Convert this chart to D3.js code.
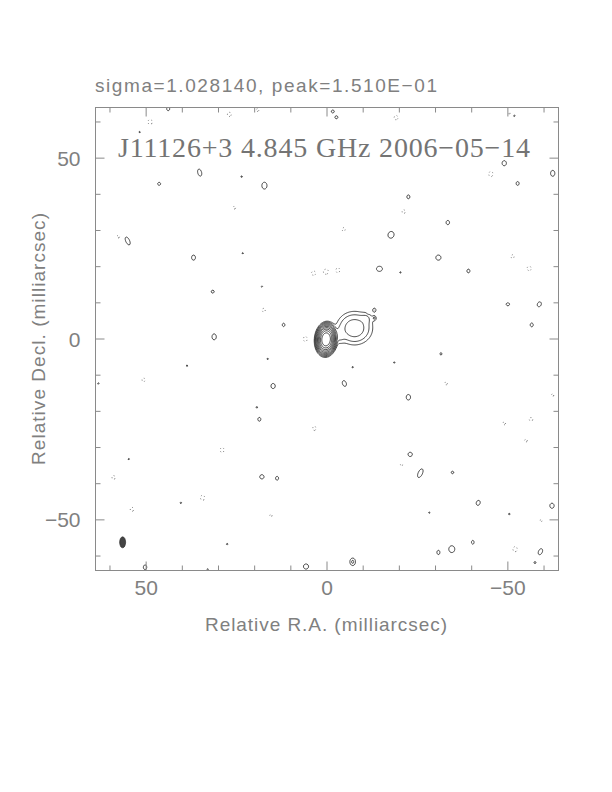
<html>
<head>
<meta charset="UTF-8">
<title>J11126+3 4.845 GHz 2006-05-14</title>
<script src="https://d3js.org/d3.v7.min.js"></script>
<style>
  body { margin: 0; background: #fff; }
  svg { display: block; }
  .frame { fill: none; stroke: #8a8a8a; stroke-width: 1; }
  .tick { stroke: #8a8a8a; stroke-width: 1; }
  .lbl { fill: #808080; font-family: "Liberation Sans", Arial, sans-serif; }
  .head { fill: #747474; font-family: "Liberation Serif", "DejaVu Serif", serif; }
  .pos { fill: none; stroke: #1a1a1a; stroke-width: 0.8; }
  .neg { fill: none; stroke: #555; stroke-width: 0.8; stroke-dasharray: 1 2.5; }
  .beam { fill: #444; stroke: #222; stroke-width: 0.6; }
</style>
</head>
<body>
<svg width="612" height="792"></svg>
<script>
// ---- data ----
var titleText = "sigma=1.028140, peak=1.510E\u221201";
var headText = "J11126+3 4.845 GHz 2006\u221205\u221214";
var xLabel = "Relative R.A. (milliarcsec)";
var yLabel = "Relative Decl. (milliarcsec)";
var minorTicks = [-60, -40, -30, -20, -10, 10, 20, 30, 40, 60];
var majorTicks = [-50, 0, 50];
var tickLabels = ["\u221250", "0", "50"];
var mapExtent = 64;          // mas, half width of the map
var posLevels = [1, 2, 4, 8, 16, 32, 64, 128, 256, 512];
var negLevels = [1];
// restoring beam: ra, dec, semi-minor, semi-major (mas)
var beam = [56.5, -56.2, 0.83, 1.52];

// components: ra, dec, peak (lowest-contour units), sigma ra, sigma dec, tilt (deg)
var coreJet = [
  [0.25, -0.1, 1300, 0.86, 1.32, 5],
  [-7.6, 3.0, 6.5, 2.6, 2.4, 0],
  [-3.4, 0.8, 1.6, 0.9, 1.4, 0],
  [-11.0, 5.8, 1.2, 1.0, 1.0, 0]
];

var noisePos = [
  [43.9, 63.6, 2, 0.35, 0.4, 0], [51.8, 57.2, 1.3, 0.3, 0.3, 0],
  [35.2, 46.0, 2, 0.45, 0.85, -15], [46.4, 42.9, 2, 0.35, 0.35, 0],
  [23.6, 44.9, 1.3, 0.3, 0.3, 0], [17.3, 42.4, 2, 0.6, 0.8, 0],
  [55.1, 27.1, 2, 0.45, 1.0, -25], [36.9, 22.5, 2, 0.45, 0.6, 0],
  [23.3, 23.7, 1.3, 0.3, 0.3, 0], [31.6, 13.1, 2, 0.35, 0.35, 0],
  [18.0, 14.5, 1.3, 0.3, 0.3, 0], [12.0, 3.9, 2, 0.3, 0.4, 0],
  [31.2, 0.6, 2, 0.5, 0.7, 0], [-1.6, 62.9, 2, 0.35, 0.35, 0],
  [-2.6, 61.3, 2, 0.35, 0.35, 0], [-51.8, 61.7, 1.3, 0.3, 0.3, 0],
  [-49.0, 48.6, 2, 0.5, 0.6, 0], [-62.4, 45.8, 2, 0.5, 0.7, 0],
  [-52.7, 43.0, 2, 0.35, 0.45, 0], [-22.5, 39.3, 2, 0.35, 0.45, 0],
  [-33.4, 32.2, 2, 0.4, 0.5, 0], [-17.7, 28.8, 2, 0.7, 0.8, 20],
  [-30.8, 22.5, 2, 0.6, 0.6, 0], [-14.5, 19.4, 2, 0.7, 0.6, 0],
  [-20.3, 18.4, 1.3, 0.3, 0.3, 0], [-39.1, 18.8, 2, 0.35, 0.45, 0],
  [-50.0, 9.6, 2, 0.4, 0.35, 0], [-58.7, 9.6, 2, 0.45, 0.6, 25],
  [-56.6, 3.9, 2, 0.35, 0.45, 0], [-13.1, 8.0, 2, 0.35, 0.45, 0],
  [-13.1, 5.8, 2, 0.35, 0.45, 0], [16.4, -5.5, 1.3, 0.3, 0.3, 0],
  [38.7, -7.4, 1.3, 0.3, 0.3, 0], [63.2, -12.3, 1.3, 0.3, 0.3, 0],
  [19.4, -18.9, 1.3, 0.3, 0.3, 0], [54.8, -33.2, 1.3, 0.3, 0.3, 0],
  [40.4, -45.3, 1.3, 0.3, 0.3, 0], [27.6, -56.7, 1.3, 0.3, 0.3, 0],
  [33.0, -63.7, 1.3, 0.3, 0.3, 0], [14.9, -13.0, 2, 0.5, 0.6, 0],
  [18.7, -22.2, 2, 0.35, 0.45, 0], [18.0, -38.1, 2, 0.5, 0.5, 0],
  [13.8, -38.5, 2, 0.35, 0.45, 0], [50.3, -63.1, 2, 0.4, 0.55, 0],
  [5.8, -62.9, 2, 0.6, 0.6, 0], [-31.5, -4.1, 1.6, 0.3, 0.35, 0],
  [-18.6, -6.5, 1.3, 0.3, 0.3, 0], [-7.1, -7.8, 1.3, 0.3, 0.3, 0],
  [-4.8, -12.3, 2, 0.45, 0.7, -20], [-22.5, -16.1, 2, 0.5, 0.65, 0],
  [-23.0, -31.9, 2, 0.5, 0.5, 0], [-25.8, -37.1, 2, 0.5, 1.1, 25],
  [-34.7, -36.9, 2, 0.3, 0.3, 0], [-41.8, -45.3, 2, 0.45, 0.6, 20],
  [-62.2, -46.1, 2, 0.5, 0.6, 0], [-28.3, -48.0, 1.3, 0.3, 0.3, 0],
  [-50.4, -48.4, 1.3, 0.3, 0.3, 0], [-57.5, -61.8, 1.6, 0.3, 0.3, 0],
  [-40.3, -56.2, 2, 0.3, 0.45, 0], [-30.8, -59.0, 2, 0.35, 0.5, 0],
  [-34.5, -58.1, 2, 0.7, 0.8, 0], [-59.0, -58.8, 2, 0.45, 0.75, 25],
  [-7.1, -61.6, 2.3, 0.6, 0.8, 0]
];

var noiseNeg = [
  [48.9, 60.0, -2, 0.5, 0.6, 0], [27.0, 62.1, -2, 0.45, 0.5, 0],
  [19.2, 63.3, -1.6, 0.4, 0.4, 0], [-19.1, 61.2, -2, 0.45, 0.5, 0],
  [-45.3, 45.6, -2, 0.5, 0.6, 0], [25.6, 36.3, -1.6, 0.35, 0.4, 0],
  [57.7, 28.3, -1.6, 0.35, 0.4, 0], [0.3, 18.6, -2, 0.6, 0.6, 0],
  [3.7, 18.2, -2, 0.5, 0.5, 0], [-3.0, 19.0, -2, 0.45, 0.6, 0],
  [-21.2, 35.2, -1.8, 0.4, 0.5, 0], [-4.6, 30.3, -1.8, 0.4, 0.45, 0],
  [-51.3, 22.8, -1.8, 0.4, 0.45, 0], [-55.9, 19.5, -2, 0.5, 0.5, 0],
  [17.5, 8.0, -1.8, 0.4, 0.45, 0], [6.0, 0.0, -2, 0.45, 0.6, 0],
  [-11.5, 7.5, -1.5, 0.3, 0.35, 0], [50.7, -11.3, -1.8, 0.4, 0.45, 0],
  [3.5, -24.7, -1.8, 0.4, 0.55, 0], [29.0, -30.7, -2, 0.45, 0.6, 0],
  [59.0, -38.3, -1.8, 0.4, 0.5, 0], [34.4, -43.9, -2, 0.5, 0.6, 0],
  [53.9, -47.1, -1.8, 0.45, 0.5, 0], [15.5, -48.8, -1.5, 0.35, 0.4, 0],
  [-32.9, -12.3, -1.6, 0.4, 0.4, 0], [-62.4, -15.5, -1.5, 0.35, 0.45, 0],
  [-49.0, -23.3, -1.6, 0.35, 0.45, 0], [-56.4, -22.2, -1.8, 0.45, 0.45, 0],
  [-55.0, -28.1, -1.6, 0.4, 0.4, 0], [-20.6, -34.8, -1.5, 0.35, 0.35, 0],
  [-59.2, -50.2, -1.5, 0.3, 0.4, 0], [-52.0, -58.1, -2, 0.5, 0.6, 0],
  [-50.4, 62.4, -1.4, 0.3, 0.3, 0]
];

// ---- layout ----
var svg = d3.select("svg");
var plotL = 95.5, plotR = 558.5, plotT = 107.5, plotB = 570.5;

var xScale = d3.scaleLinear().domain([mapExtent, -mapExtent]).range([plotL, plotR]);
var yScale = d3.scaleLinear().domain([mapExtent, -mapExtent]).range([plotT, plotB]);

// ---- build the brightness grid from the components ----
var step = 0.25;
var n = Math.round(2 * mapExtent / step) + 1;
var grid = new Float64Array(n * n);
var comps = coreJet.concat(noisePos, noiseNeg);

comps.forEach(function (c) {
  var ra0 = c[0], dec0 = c[1], amp = c[2], sx = c[3], sy = c[4];
  var t = c[5] * Math.PI / 180, ct = Math.cos(t), st = Math.sin(t);
  var R = Math.max(sx, sy) * Math.sqrt(2 * Math.log(Math.abs(amp) / 0.002));
  var i0 = Math.max(0, Math.floor((mapExtent - ra0 - R) / step));
  var i1 = Math.min(n - 1, Math.ceil((mapExtent - ra0 + R) / step));
  var j0 = Math.max(0, Math.floor((mapExtent - dec0 - R) / step));
  var j1 = Math.min(n - 1, Math.ceil((mapExtent - dec0 + R) / step));
  for (var j = j0; j <= j1; j++) {
    var dy = (mapExtent - j * step) - dec0;
    for (var i = i0; i <= i1; i++) {
      var dx = -((mapExtent - i * step) - ra0);
      var u = dx * ct - dy * st, v = dx * st + dy * ct;
      grid[j * n + i] += amp * Math.exp(-(u * u / (2 * sx * sx) + v * v / (2 * sy * sy)));
    }
  }
});

var negGrid = grid.map(function (v) { return -v; });

var gridToPx = d3.geoTransform({
  point: function (x, y) {
    var ra = mapExtent - (x - 0.5) * step;
    var dec = mapExtent - (y - 0.5) * step;
    this.stream.point(xScale(ra), yScale(dec));
  }
});
var path = d3.geoPath(gridToPx);

svg.append("clipPath").attr("id", "plotclip")
  .append("rect")
  .attr("x", plotL).attr("y", plotT)
  .attr("width", plotR - plotL).attr("height", plotB - plotT);

var plot = svg.append("g").attr("clip-path", "url(#plotclip)");

var posContours = d3.contours().size([n, n]).thresholds(posLevels)(grid);
var negContours = d3.contours().size([n, n]).thresholds(negLevels)(negGrid);

plot.selectAll("path.neg")
  .data(negContours)
  .enter().append("path")
  .attr("class", "neg")
  .attr("d", path);

plot.selectAll("path.pos")
  .data(posContours)
  .enter().append("path")
  .attr("class", "pos")
  .attr("d", path);

// beam
plot.append("ellipse")
  .attr("class", "beam")
  .attr("cx", xScale(beam[0]))
  .attr("cy", yScale(beam[1]))
  .attr("rx", Math.abs(xScale(beam[2]) - xScale(0)))
  .attr("ry", Math.abs(yScale(beam[3]) - yScale(0)));

// ---- frame and ticks ----
svg.append("rect")
  .attr("class", "frame")
  .attr("x", plotL).attr("y", plotT)
  .attr("width", plotR - plotL).attr("height", plotB - plotT);

function drawTicks(values, len) {
  values.forEach(function (v) {
    var x = xScale(v), y = yScale(v);
    svg.append("line").attr("class", "tick").attr("x1", x).attr("x2", x).attr("y1", plotB).attr("y2", plotB - len);
    svg.append("line").attr("class", "tick").attr("x1", x).attr("x2", x).attr("y1", plotT).attr("y2", plotT + len);
    svg.append("line").attr("class", "tick").attr("y1", y).attr("y2", y).attr("x1", plotL).attr("x2", plotL + len);
    svg.append("line").attr("class", "tick").attr("y1", y).attr("y2", y).attr("x1", plotR).attr("x2", plotR - len);
  });
}
drawTicks(minorTicks, 5);
drawTicks(majorTicks, 9);

// tick labels
majorTicks.forEach(function (v, k) {
  svg.append("text").attr("class", "lbl")
    .attr("x", xScale(v)).attr("y", 595)
    .attr("text-anchor", "middle")
    .attr("font-size", 21)
    .text(tickLabels[k]);
  svg.append("text").attr("class", "lbl")
    .attr("x", 80.5).attr("y", yScale(v) + 7.5)
    .attr("text-anchor", "end")
    .attr("font-size", 21)
    .text(tickLabels[k]);
});

// axis titles
svg.append("text").attr("class", "lbl")
  .attr("x", 326).attr("y", 631)
  .attr("text-anchor", "middle")
  .attr("font-size", 19)
  .attr("textLength", 242)
  .text(xLabel);

svg.append("text").attr("class", "lbl")
  .attr("transform", "translate(45,339) rotate(-90)")
  .attr("text-anchor", "middle")
  .attr("font-size", 19)
  .attr("textLength", 252)
  .text(yLabel);

// titles
svg.append("text").attr("class", "lbl")
  .attr("x", 95).attr("y", 92)
  .attr("font-size", 19)
  .attr("textLength", 342)
  .text(titleText);

svg.append("text").attr("class", "head")
  .attr("x", 118).attr("y", 157)
  .attr("font-size", 28)
  .attr("textLength", 412)
  .text(headText);
</script>
</body>
</html>
